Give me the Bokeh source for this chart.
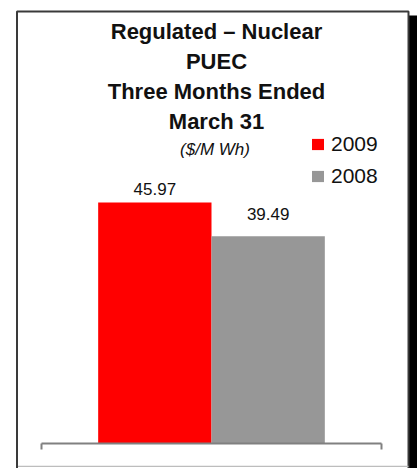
import math
from bokeh.plotting import figure
from bokeh.models import Range1d, Label, Legend, LegendItem, BoxAnnotation
from bokeh.core.properties import value
from bokeh.embed import file_html
from bokeh.resources import INLINE

# ---- data ----
categories = ["Three Months Ended March 31"]
series_names = ["2009", "2008"]
values_2009 = [45.97]
values_2008 = [39.49]
series_colors = ["#FF0000", "#979797"]
title_lines = ["Regulated \u2013 Nuclear", "PUEC", "Three Months Ended", "March 31"]
unit_text = "($/M Wh)"

FONT = "Liberation Sans"

p = figure(width=417, height=468,
           x_range=Range1d(-0.1206, 1.1059), y_range=Range1d(-4.766, 84.46),
           min_border_left=0, min_border_right=0, min_border_top=0, min_border_bottom=0,
           toolbar_location=None, output_backend="svg",
           x_axis_location=None, y_axis_location=None)
p.grid.visible = False
p.outline_line_color = None
p.background_fill_color = "white"
p.border_fill_color = "white"

# drop shadow and framed box
p.add_layout(BoxAnnotation(left=408, right=417, top=453, bottom=0,
                           left_units="screen", right_units="screen",
                           top_units="screen", bottom_units="screen",
                           fill_color="black", fill_alpha=1, line_color=None,
                           level="underlay"))
p.add_layout(BoxAnnotation(left=16.5, right=408, top=457, bottom=-4,
                           left_units="screen", right_units="screen",
                           top_units="screen", bottom_units="screen",
                           fill_color="white", fill_alpha=1, line_color="#3a3a3a",
                           line_width=2, line_alpha=1, level="underlay"))
p.add_layout(BoxAnnotation(left=17.5, right=408, top=2.8, bottom=1.6,
                           left_units="screen", right_units="screen",
                           top_units="screen", bottom_units="screen",
                           fill_color="#bdbdbd", fill_alpha=1, line_color=None,
                           level="underlay"))

n_series = len(series_names)
all_values = [values_2009, values_2008]
label_offsets = [-13, -22]
items = []
for i, (name, vals, col) in enumerate(zip(series_names, all_values, series_colors)):
    xs = [g + (i + 1) / (n_series + 1) for g in range(len(categories))]
    r = p.vbar(x=xs, top=vals, bottom=0, width=1 / (n_series + 1),
               fill_color=col, line_color=None)
    items.append(LegendItem(label=name, renderers=[r]))
    p.text(x=xs, y=vals, text=[f"{v:.2f}" for v in vals],
           text_align="center", text_baseline="alphabetic", y_offset=label_offsets[i],
           text_font=value(FONT), text_font_size="17px", text_color="#111111")

# category baseline with end ticks
p.segment(x0=[0], x1=[len(categories)], y0=[0], y1=[0], line_color="#808080", line_width=2)
p.ray(x=[0, len(categories)], y=[0, 0], length=6, length_units="screen",
      angle=-math.pi / 2, line_color="#808080", line_width=2)

# titles
for k, t in enumerate(title_lines):
    p.add_layout(Label(x=216, y=437 - 30 * k, x_units="screen", y_units="screen",
                       text=t, text_align="center", text_baseline="alphabetic",
                       text_font=FONT, text_font_style="bold", text_font_size="22px",
                       text_color="#111111"))
p.add_layout(Label(x=214.5, y=319, x_units="screen", y_units="screen",
                   text=unit_text, text_align="center", text_baseline="alphabetic",
                   text_font=FONT, text_font_style="italic", text_font_size="17px",
                   text_color="#111111"))

legend = Legend(items=items, location=(310, 280), orientation="vertical",
                glyph_width=15, glyph_height=14, label_standoff=6, spacing=8,
                padding=0, margin=0, border_line_color=None, background_fill_alpha=0,
                label_text_font=FONT, label_text_font_size="21px", label_text_color="#111111")
p.add_layout(legend)

open("out.html", "w").write(file_html(p, INLINE))
